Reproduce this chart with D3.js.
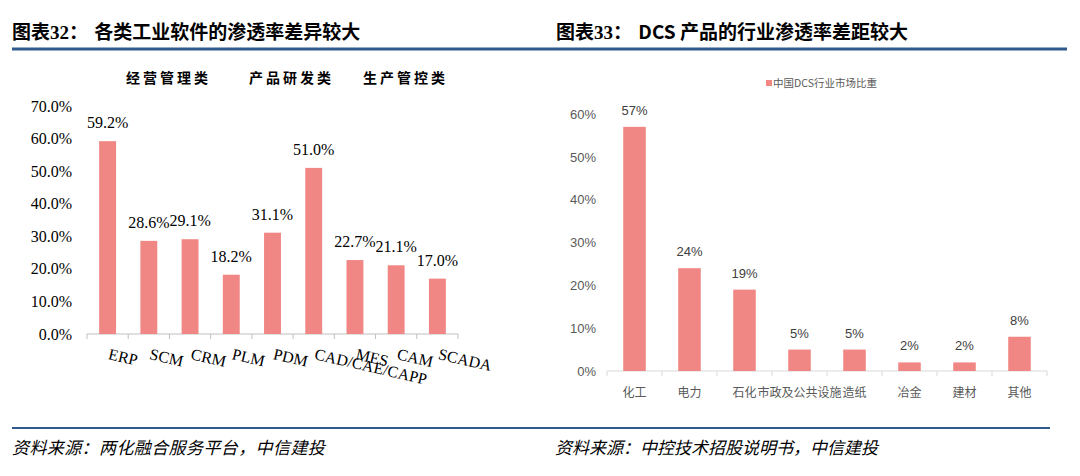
<!DOCTYPE html>
<html>
<head>
<meta charset="utf-8">
<script src="https://cdn.jsdelivr.net/npm/d3@7"></script>
<style>
  body { margin: 0; background: #fff; }
  svg { display: block; }
</style>
</head>
<body>
<div id="main"></div>
<script>
const w = 1080, h = 476;

// left chart data
const softCats = ['ERP', 'SCM', 'CRM', 'PLM', 'PDM', 'CAD/CAE/CAPP', 'MES', 'CAM', 'SCADA'];
const softVals = [0.592, 0.286, 0.291, 0.182, 0.311, 0.510, 0.227, 0.211, 0.170];
const softTicks = [0, 0.1, 0.2, 0.3, 0.4, 0.5, 0.6, 0.7];
const groupNames = ['经营管理类', '产品研发类', '生产管控类'];

// right chart data
const dcsCats = ['化工', '电力', '石化', '市政及公共设施', '造纸', '冶金', '建材', '其他'];
const dcsVals = [0.57, 0.24, 0.19, 0.05, 0.05, 0.02, 0.02, 0.08];
const dcsTicks = [0, 0.1, 0.2, 0.3, 0.4, 0.5, 0.6];
const dcsSeries = '中国DCS行业市场比重';

const barColor = '#F08784';
const ruleColor = '#2F5A8B';
const cjk = '"Noto Sans CJK SC", "Noto Sans", sans-serif';
const serif = '"Liberation Serif", "Times New Roman", serif';
const narrow = '"Liberation Sans Narrow", "Liberation Sans", Arial, sans-serif';

const svg = d3.select('#main').append('svg')
  .attr('width', w).attr('height', h);
svg.append('rect').attr('width', w).attr('height', h).attr('fill', '#fff');

// titles
function title(x, num, rest) {
  const t = svg.append('text')
    .attr('x', x).attr('y', 39)
    .attr('font-family', cjk).attr('font-weight', 700)
    .attr('font-size', 19).attr('fill', '#000');
  t.append('tspan').text('图表');
  t.append('tspan').attr('font-family', serif).text(num);
  t.append('tspan').text('：  ');
  t.append('tspan').attr('dx', 2).text(rest);
}
title(12, '32', '各类工业软件的渗透率差异较大');
title(556, '33', 'DCS 产品的行业渗透率差距较大');

svg.append('line').attr('x1', 12).attr('x2', 1067).attr('y1', 49).attr('y2', 49)
  .attr('stroke', ruleColor).attr('stroke-width', 3);
svg.append('line').attr('x1', 12).attr('x2', 1050).attr('y1', 428).attr('y2', 428)
  .attr('stroke', ruleColor).attr('stroke-width', 2);

svg.append('text').attr('x', 12).attr('y', 454)
  .attr('font-family', cjk).attr('font-style', 'italic').attr('font-size', 17)
  .attr('letter-spacing', 0.4)
  .text('资料来源：两化融合服务平台，中信建投');
svg.append('text').attr('x', 555).attr('y', 454)
  .attr('font-family', cjk).attr('font-style', 'italic').attr('font-size', 17)
  .text('资料来源：中控技术招股说明书，中信建投');

// ---------- left chart ----------
const x1 = d3.scaleBand().domain(softCats).range([87, 458])
  .paddingInner(0.59).paddingOuter(0.295);
const y1 = d3.scaleLinear().domain([0, 0.7]).range([334, 106]);

const left = svg.append('g');

const yAx1 = left.append('g')
  .attr('transform', 'translate(87,0)')
  .call(d3.axisLeft(y1).tickValues(softTicks).tickFormat(d3.format('.1%')).tickSize(0).tickPadding(15));
yAx1.select('.domain').remove();
yAx1.selectAll('text').attr('font-family', serif).attr('font-size', 16).attr('fill', '#000');

left.append('line')
  .attr('x1', x1.range()[0]).attr('x2', x1.range()[1])
  .attr('y1', y1(0)).attr('y2', y1(0))
  .attr('stroke', '#BFBFBF');
left.selectAll('.bt').data(d3.range(softCats.length + 1)).enter().append('line')
  .attr('x1', i => x1.range()[0] + i * x1.step()).attr('x2', i => x1.range()[0] + i * x1.step())
  .attr('y1', y1(0)).attr('y2', y1(0) + 5)
  .attr('stroke', '#BFBFBF');

left.selectAll('.bar').data(softVals).enter().append('rect')
  .attr('x', (d, i) => x1(softCats[i]))
  .attr('y', d => y1(d))
  .attr('width', x1.bandwidth())
  .attr('height', d => y1(0) - y1(d))
  .attr('fill', barColor);

left.selectAll('.lbl').data(softVals).enter().append('text')
  .attr('x', (d, i) => x1(softCats[i]) + x1.bandwidth() / 2)
  .attr('y', d => y1(d) - 13)
  .attr('text-anchor', 'middle')
  .attr('font-family', serif).attr('font-size', 16)
  .text(d => d3.format('.1%')(d));

left.selectAll('.xl').data(softCats).enter().append('text')
  .attr('transform', d => `translate(${x1(d) + x1.bandwidth() / 2},${y1(0) + 25}) rotate(13)`)
  .attr('font-family', serif).attr('font-size', 16)
  .text(d => d);

const groupX = [126, 249, 363];
groupNames.forEach((g, i) => {
  svg.append('text').attr('x', groupX[i]).attr('y', 83)
    .attr('font-family', cjk).attr('font-weight', 700).attr('font-size', 14)
    .attr('letter-spacing', 3)
    .text(g);
});

// ---------- right chart ----------
const x2 = d3.scaleBand().domain(dcsCats).range([607, 1047])
  .paddingInner(0.59).paddingOuter(0.295);
const y2 = d3.scaleLinear().domain([0, 0.6]).range([371, 114]);

const right = svg.append('g');

const yAx2 = right.append('g')
  .attr('transform', 'translate(607,0)')
  .call(d3.axisLeft(y2).tickValues(dcsTicks).tickFormat(d3.format('.0%')).tickSize(0).tickPadding(11));
yAx2.select('.domain').remove();
yAx2.selectAll('text').attr('font-family', narrow).attr('font-size', 13).attr('fill', '#595959');

right.append('line')
  .attr('x1', x2.range()[0]).attr('x2', x2.range()[1])
  .attr('y1', y2(0)).attr('y2', y2(0))
  .attr('stroke', '#D9D9D9');
right.selectAll('.bt').data(d3.range(dcsCats.length + 1)).enter().append('line')
  .attr('x1', i => x2.range()[0] + i * x2.step()).attr('x2', i => x2.range()[0] + i * x2.step())
  .attr('y1', y2(0)).attr('y2', y2(0) + 5)
  .attr('stroke', '#D9D9D9');

right.selectAll('.bar').data(dcsVals).enter().append('rect')
  .attr('x', (d, i) => x2(dcsCats[i]))
  .attr('y', d => y2(d))
  .attr('width', x2.bandwidth())
  .attr('height', d => y2(0) - y2(d))
  .attr('fill', barColor);

right.selectAll('.lbl').data(dcsVals).enter().append('text')
  .attr('x', (d, i) => x2(dcsCats[i]) + x2.bandwidth() / 2)
  .attr('y', d => y2(d) - 12)
  .attr('text-anchor', 'middle')
  .attr('font-family', narrow).attr('font-size', 13).attr('fill', '#404040')
  .text(d => d3.format('.0%')(d));

right.selectAll('.xl').data(dcsCats).enter().append('text')
  .attr('x', d => x2(d) + x2.bandwidth() / 2)
  .attr('y', y2(0) + 26)
  .attr('text-anchor', 'middle')
  .attr('font-family', cjk).attr('font-size', 12).attr('fill', '#595959')
  .text(d => d);

// legend
right.append('rect').attr('x', 766).attr('y', 80).attr('width', 6).attr('height', 6).attr('fill', barColor);
right.append('text').attr('x', 773).attr('y', 87)
  .attr('font-family', cjk).attr('font-size', 10.5).attr('fill', '#595959')
  .text(dcsSeries);
</script>
</body>
</html>
